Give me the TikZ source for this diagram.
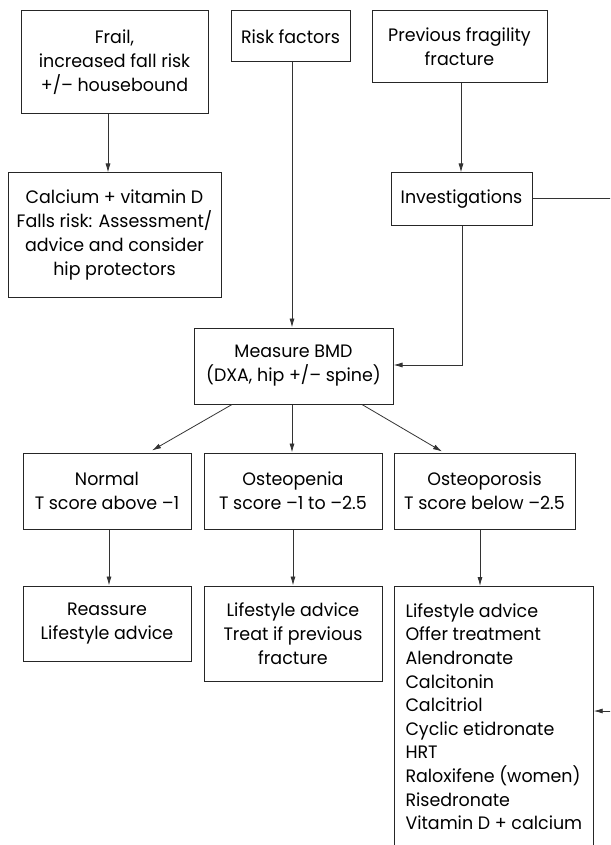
\documentclass[tikz,border=0pt]{standalone}
\usepackage{fontspec}
\setmainfont{Poppins}[FakeStretch=0.97]
\usetikzlibrary{arrows.meta}
\begin{document}
\begin{tikzpicture}[x=1pt,y=-1pt,
  box/.style={draw=black!85,line width=1pt,align=center,inner sep=0pt,
    font=\fontsize{18}{24}\selectfont},
  arr/.style={draw=black!80,line width=0.8pt,-{Latex[length=9pt,width=5pt]}},
  ln/.style={draw=black!80,line width=0.8pt}]
\useasboundingbox (0,0) rectangle (610,845);
\clip (0,0) rectangle (610,845);
\fill[white] (0,0) rectangle (610,845);
\node[box,minimum width=187,minimum height=103] (frail) at (114.5,62.5) {Frail,\\increased fall risk\\+/– housebound};
\node[box,minimum width=119,minimum height=51] (risk) at (290.5,36.5) {Risk factors};
\node[box,minimum width=175,minimum height=72] (prev) at (459.5,47) {Previous fragility\\fracture};
\node[box,minimum width=213,minimum height=124] (calc) at (114.5,235) {Calcium + vitamin D\\Falls risk: Assessment/\\advice and consider\\hip protectors};
\node[box,minimum width=141,minimum height=52] (inv) at (461.5,199) {Investigations};
\node[box,minimum width=199,minimum height=76] (bmd) at (293.5,366) {Measure BMD\\(DXA, hip +/– spine)};
\node[box,minimum width=168,minimum height=76] (normal) at (107,491) {Normal\\T score above –1};
\node[box,minimum width=178,minimum height=76] (openia) at (293,491) {Osteopenia\\T score –1 to –2.5};
\node[box,minimum width=181,minimum height=76] (oporo) at (484.5,491) {Osteoporosis\\T score below –2.5};
\node[box,minimum width=168,minimum height=75] (reass) at (107,623.5) {Reassure\\Lifestyle advice};
\node[box,minimum width=178,minimum height=95] (lstreat) at (293,633.5) {Lifestyle advice\\Treat if previous\\fracture};
\node[box,anchor=north west,align=left,inner xsep=11,inner ysep=17,
  font=\fontsize{18}{23.6}\selectfont] (big) at (394,586)
  {Lifestyle advice\\Offer treatment\\Alendronate\\Calcitonin\\Calcitriol\\Cyclic etidronate\\HRT\\Raloxifene (women)\\Risedronate\\Vitamin D + calcium\\ \strut};
\coordinate (invout) at (615,198);
\coordinate (bigin) at (615,711);
\draw[arr] (108,0 |- frail.south) -- (108,0 |- calc.north);
\draw[arr] (292,0 |- risk.south) -- (292,0 |- bmd.north);
\draw[arr] (461,0 |- prev.south) -- (461,0 |- inv.north);
\draw[ln] (inv.east |- invout) -- (invout);
\draw[arr] (462,0 |- inv.south) |- (bmd.east |- 0,365);
\draw[arr] (232,0 |- bmd.south) -- ([yshift=2pt]152,0 |- normal.north);
\draw[arr] (292,0 |- bmd.south) -- (292,0 |- openia.north);
\draw[arr] (362,0 |- bmd.south) -- ([yshift=1pt]442,0 |- oporo.north);
\draw[arr] (109,0 |- normal.south) -- (109,0 |- reass.north);
\draw[arr] (293,0 |- openia.south) -- (293,0 |- lstreat.north);
\draw[arr] (480,0 |- oporo.south) -- (480,0 |- big.north);
\draw[arr] (bigin) -- (big.east |- bigin);
\end{tikzpicture}
\end{document}
